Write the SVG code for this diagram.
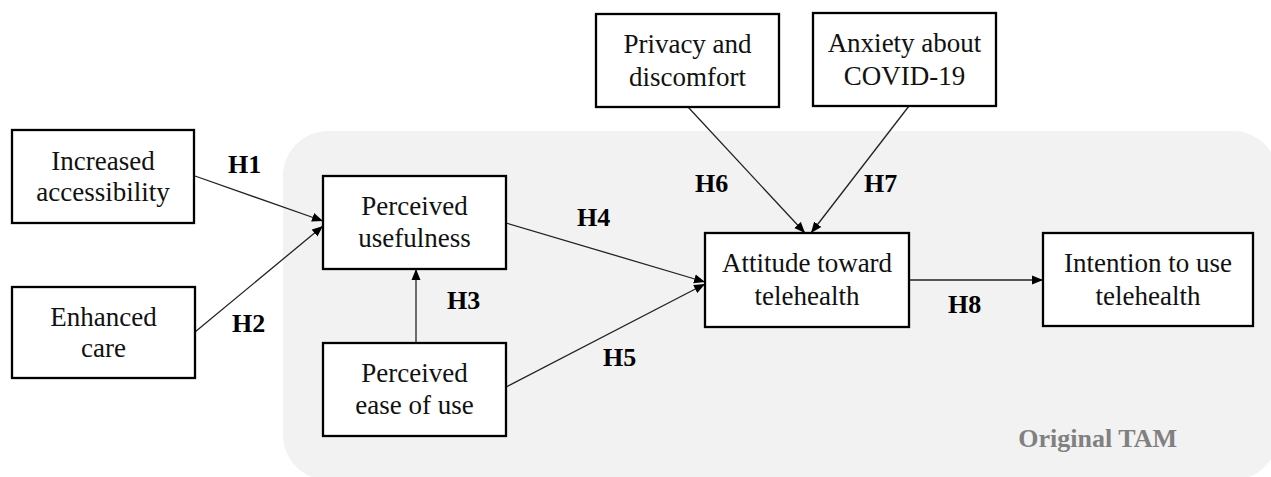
<svg xmlns="http://www.w3.org/2000/svg" width="1271" height="477" viewBox="0 0 1271 477">
<style>
.box{fill:#fff;stroke:#000;stroke-width:2.3}
.t{font-family:"Liberation Serif","Times New Roman",serif;font-size:27px;fill:#111;text-anchor:middle}
.h{font-family:"Liberation Serif","Times New Roman",serif;font-size:26px;font-weight:bold;fill:#000}
.c{fill:none;stroke:#222;stroke-width:1.3;marker-end:url(#ah)}
</style>
<defs>
<marker id="ah" markerUnits="userSpaceOnUse" markerWidth="12" markerHeight="10" refX="11" refY="5" orient="auto">
<path d="M0,0.5 L11,5 L0,9.5 z" fill="#000"/>
</marker>
</defs>
<rect id="tam-region" x="283" y="131" width="995" height="349" rx="45" fill="#f2f2f2"/>
<text x="1177" y="447" class="h" style="fill:#808080;text-anchor:end">Original TAM</text>
<g id="connectors">
<line class="c" x1="195" y1="176" x2="323" y2="221"/>
<line class="c" x1="195" y1="332" x2="323" y2="226"/>
<line class="c" x1="416" y1="343" x2="416" y2="269"/>
<line class="c" x1="506" y1="223" x2="705" y2="282"/>
<line class="c" x1="506" y1="387" x2="705" y2="284"/>
<line class="c" x1="688" y1="107" x2="805" y2="233"/>
<line class="c" x1="909" y1="106" x2="811" y2="233"/>
<line class="c" x1="909" y1="280" x2="1043" y2="280"/>
<text class="h" x="228" y="173">H1</text>
<text class="h" x="232" y="332">H2</text>
<text class="h" x="447" y="309">H3</text>
<text class="h" x="577" y="226">H4</text>
<text class="h" x="603" y="366">H5</text>
<text class="h" x="695" y="192">H6</text>
<text class="h" x="864" y="192">H7</text>
<text class="h" x="948" y="313">H8</text>
</g>
<g id="increased-accessibility">
<rect class="box" x="12" y="130" width="182" height="93"/>
<text class="t" x="103" y="170">Increased</text>
<text class="t" x="103" y="201">accessibility</text>
</g>
<g id="enhanced-care">
<rect class="box" x="12" y="287" width="183" height="91"/>
<text class="t" x="103.5" y="326">Enhanced</text>
<text class="t" x="103.5" y="357">care</text>
</g>
<g id="perceived-usefulness">
<rect class="box" x="323" y="176" width="183" height="93"/>
<text class="t" x="414.5" y="215">Perceived</text>
<text class="t" x="414.5" y="247">usefulness</text>
</g>
<g id="perceived-ease-of-use">
<rect class="box" x="323" y="343" width="183" height="93"/>
<text class="t" x="414.5" y="382">Perceived</text>
<text class="t" x="414.5" y="414">ease of use</text>
</g>
<g id="privacy-and-discomfort">
<rect class="box" x="596" y="14" width="183" height="93"/>
<text class="t" x="687.5" y="53">Privacy and</text>
<text class="t" x="687.5" y="86">discomfort</text>
</g>
<g id="anxiety-about-covid">
<rect class="box" x="813" y="13" width="183" height="93"/>
<text class="t" x="904.5" y="52">Anxiety about</text>
<text class="t" x="904.5" y="85">COVID-19</text>
</g>
<g id="attitude-toward-telehealth">
<rect class="box" x="705" y="233" width="204" height="94"/>
<text class="t" x="807" y="272">Attitude toward</text>
<text class="t" x="807" y="305">telehealth</text>
</g>
<g id="intention-to-use-telehealth">
<rect class="box" x="1043" y="233" width="210" height="93"/>
<text class="t" x="1148" y="272">Intention to use</text>
<text class="t" x="1148" y="305">telehealth</text>
</g>
</svg>
